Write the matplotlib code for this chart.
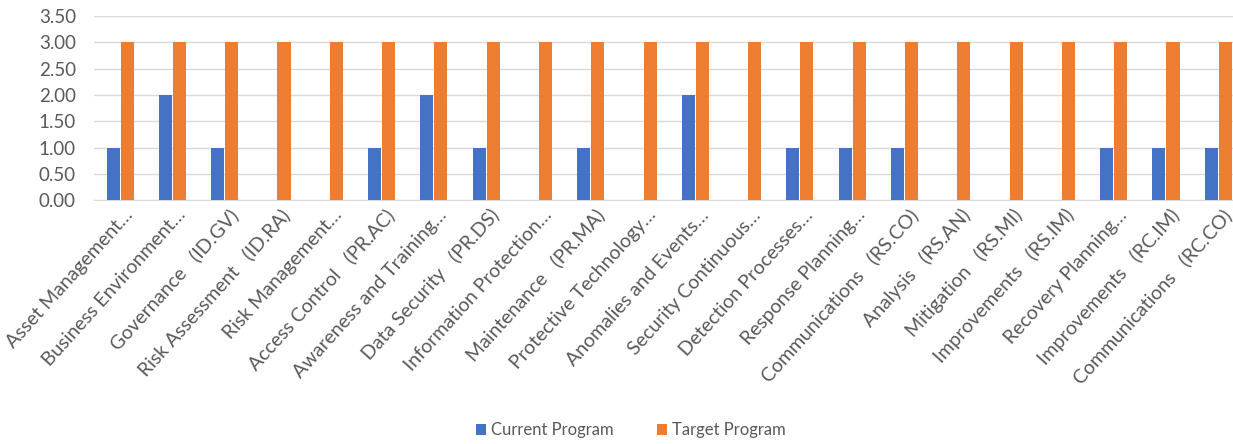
import matplotlib.pyplot as plt
import matplotlib.transforms as mtransforms
import numpy as np
from matplotlib.ticker import FormatStrFormatter

categories = [
    "Asset Management…",
    "Business Environment…",
    "Governance   (ID.GV)",
    "Risk Assessment   (ID.RA)",
    "Risk Management…",
    "Access Control   (PR.AC)",
    "Awareness and Training…",
    "Data Security   (PR.DS)",
    "Information Protection…",
    "Maintenance   (PR.MA)",
    "Protective Technology…",
    "Anomalies and Events…",
    "Security Continuous…",
    "Detection Processes…",
    "Response Planning…",
    "Communications   (RS.CO)",
    "Analysis   (RS.AN)",
    "Mitigation   (RS.MI)",
    "Improvements   (RS.IM)",
    "Recovery Planning…",
    "Improvements   (RC.IM)",
    "Communications   (RC.CO)",
]
current_program = [1, 2, 1, 0, 0, 1, 2, 1, 0, 1, 0, 2, 0, 1, 1, 1, 0, 0, 0, 1, 1, 1]
target_program = [3] * len(categories)

plt.rcParams["font.family"] = ["Lato", "DejaVu Sans"]
text_color = "#595959"

fig = plt.figure(figsize=(12.33, 4.44), dpi=100)
ax = fig.add_axes([0.0762, 0.549, 0.933, 0.415])

x = np.arange(len(categories))
w = 0.25
ax.bar(x - 0.135, current_program, w, color="#4472C4", label="Current Program", zorder=3)
ax.bar(x + 0.135, target_program, w, color="#ED7D31", label="Target Program", zorder=3)

ax.set_xlim(-0.5, len(categories) - 0.5)
ax.set_ylim(0, 3.5)
ax.set_yticks(np.arange(0, 3.51, 0.5))
ax.yaxis.set_major_formatter(FormatStrFormatter("%.2f"))
ax.grid(axis="y", color="#D9D9D9", linewidth=1, zorder=0)

for s in ["top", "right", "left"]:
    ax.spines[s].set_visible(False)
ax.spines["bottom"].set_color("#D9D9D9")
ax.tick_params(axis="both", length=0, colors=text_color)
ax.tick_params(axis="y", pad=13, labelsize=13.5)

ax.set_xticks(x)
ax.set_xticklabels(categories, rotation=48, ha="right", va="center",
                   rotation_mode="anchor", fontsize=14, color=text_color)
# nudge the slanted labels so their ends sit just right of each group
shift = mtransforms.ScaledTranslation(0.1, -0.07, fig.dpi_scale_trans)
for lbl in ax.get_xticklabels():
    lbl.set_transform(lbl.get_transform() + shift)

fig.legend(loc="center", bbox_to_anchor=(0.512, 0.031), ncol=2, frameon=False,
           fontsize=12, labelcolor=text_color, handlelength=0.6, handleheight=0.6,
           handletextpad=0.3, columnspacing=2.6)

fig.savefig("out.png", dpi=100)
